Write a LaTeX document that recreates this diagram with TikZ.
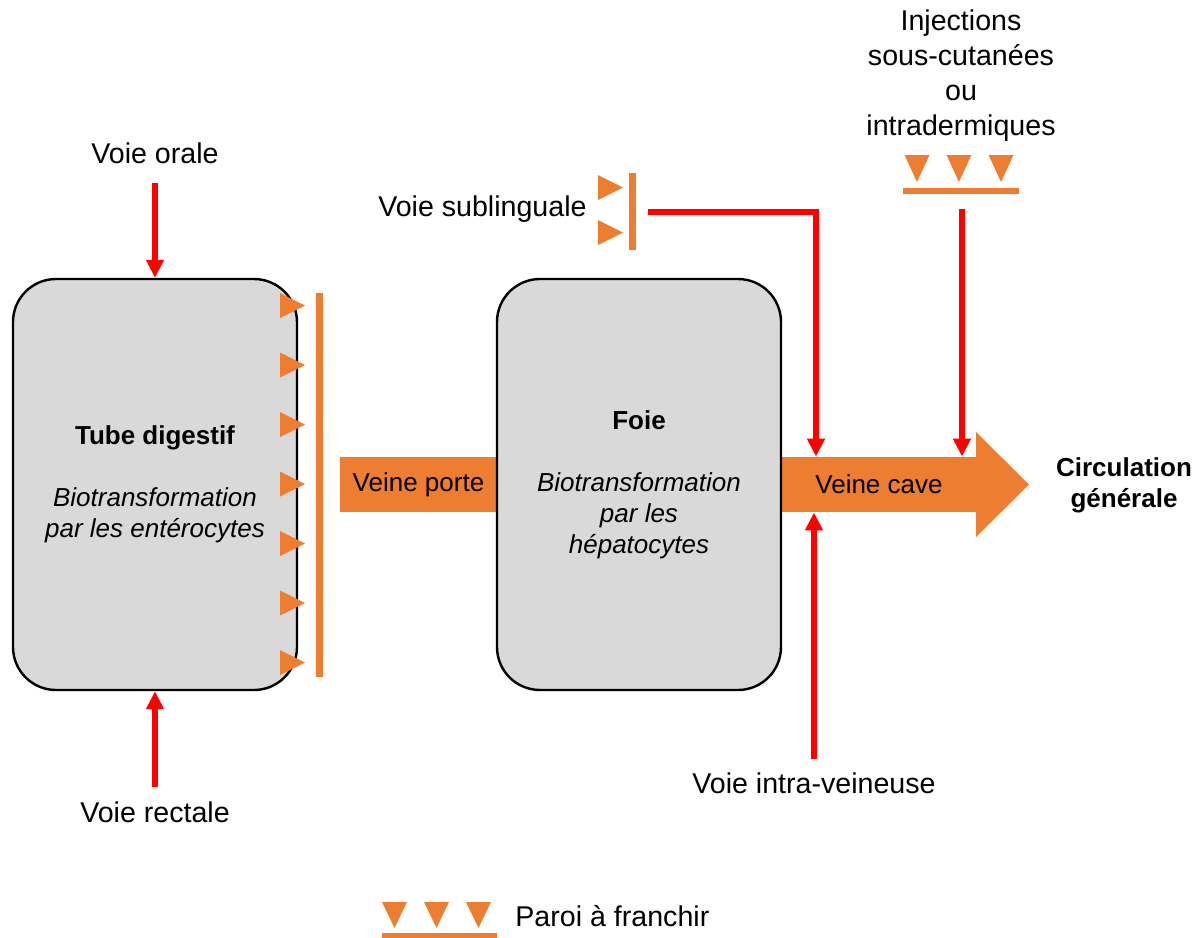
\documentclass[tikz,border=0pt]{standalone}
\usepackage{fontspec}
\setmainfont{Liberation Sans}
\usetikzlibrary{arrows.meta}
\tikzset{>={Triangle[width=8.5pt,length=9pt]}}
\definecolor{orangeparoi}{RGB}{237,125,49}
\definecolor{grisboite}{RGB}{217,217,217}
\definecolor{rougevoie}{RGB}{255,0,0}
\tikzset{
  boite/.style={draw, line width=1.2pt, fill=grisboite, rounded corners=21.5pt, minimum width=142pt, minimum height=205.5pt, align=center, font=\fontsize{13}{15.5}\selectfont},
  voie/.style={inner sep=0pt, font=\fontsize{14.3}{17.5}\selectfont},
  flux/.style={->, rougevoie, line width=3pt},
  paroi/.style={orangeparoi, line width=3.2pt}
}
\begin{document}
\begin{tikzpicture}[x=0.5pt, y=-0.5pt]
    \useasboundingbox (0,0) rectangle (1201,938);
    \node (porte) [fill=orangeparoi, minimum width=78.5pt, minimum height=27.5pt, inner sep=0pt, font=\fontsize{13}{15.5}\selectfont] at (418.5,484.5) {Veine porte};
    \node (cave) [fill=orangeparoi, minimum width=98pt, minimum height=27.5pt, inner sep=0pt, font=\fontsize{13}{15.5}\selectfont] at (879,484.5) {Veine cave};
    \fill [orangeparoi] (976,432) -- (1029,484.5) -- (976,537) -- cycle;
    \node (tube) [boite] at (155,484.5) {\textbf{Tube digestif}\\[15.5pt]\textit{Biotransformation}\\\textit{par les entérocytes}};
    \node (foie) [boite] at (639,484.5) {\textbf{Foie}\\[15.5pt]\textit{Biotransformation}\\\textit{par les}\\\textit{hépatocytes}};
    \node (circulation) [align=center, font=\bfseries\fontsize{13}{15.5}\selectfont] at (1124,485) {Circulation\\générale};
    \foreach \y in {305.5,365,...,663}
      \fill [orangeparoi] (280,\y-12.5) -- (305,\y) -- (280,\y+12.5) -- cycle;
    \draw [paroi] (319.5,293) -- (319.5,677);
    \node (orale) [voie, anchor=base] at (155,163) {Voie orale};
    \node (rectale) [voie, anchor=base] at (155,822) {Voie rectale};
    \draw [flux, shorten <=9.5pt] (orale) -- (tube);
    \draw [flux, shorten <=7pt] (rectale) -- (tube);
    \node (sublinguale) [voie, anchor=base east] at (587,216) {Voie sublinguale};
    \foreach \y in {187.5,232.5}
      \fill [orangeparoi] (598,\y-12.5) -- (623,\y) -- (598,\y+12.5) -- cycle;
    \draw [paroi] (632.5,173) -- (632.5,250);
    \coordinate (subl) at (648,212);
    \draw [flux] (subl) -| (816,0 |- cave.north);
    \node (injections) [voie, align=center] at (961,75.5) {Injections\\sous-cutanées\\ou\\intradermiques};
    \foreach \x in {917,959,1001}
      \fill [orangeparoi] (\x-12.5,155) -- (\x+12.5,155) -- (\x,182) -- cycle;
    \draw [paroi] (903,191) -- (1019,191);
    \coordinate (inj) at (962,209);
    \draw [flux] (inj) -- (inj |- cave.north);
    \node (iv) [voie, anchor=base] at (814,793) {Voie intra-veineuse};
    \draw [flux, shorten <=6.5pt] (iv) -- (iv |- cave.south);
    \foreach \x in {394.5,436.5,478.5}
      \fill [orangeparoi] (\x-12.5,902) -- (\x+12.5,902) -- (\x,928) -- cycle;
    \draw [paroi] (382,936.5) -- (497,936.5);
    \node (legende) [voie, anchor=base west] at (515,926) {Paroi à franchir};
  \end{tikzpicture}
\end{document}
